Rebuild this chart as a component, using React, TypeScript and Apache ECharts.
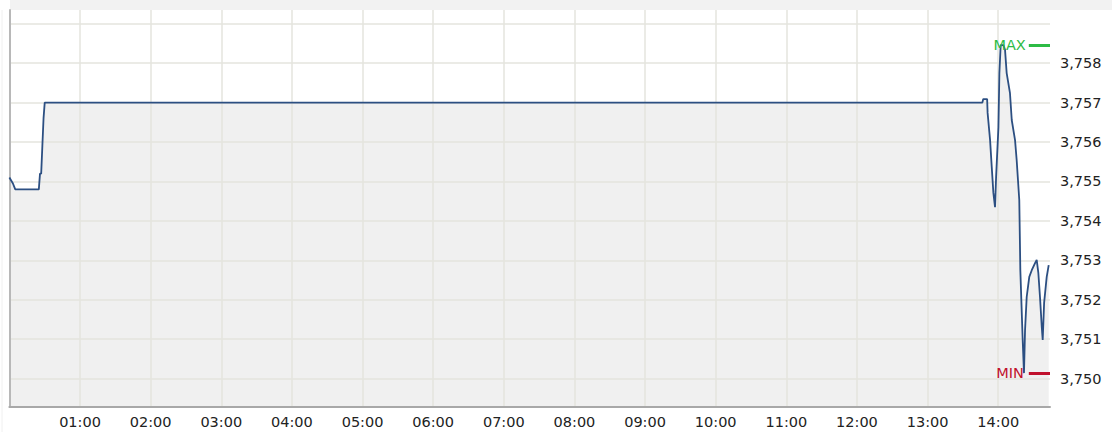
import React, { useEffect, useRef } from "react";
import * as echarts from "echarts";

// minutes since 00:00
const minutes = [
  0, 3, 5, 25, 26, 27, 28, 29, 30,
  826.5, 827.3, 830.6, 831, 833.1, 834.5, 835.9, 837.3, 838.2, 840.2, 841, 842.1,
  844.4, 845.8, 847.2, 850, 851.5, 854.3, 855.7, 857.9, 858.8, 860.8, 861.9, 862.8,
  864.2, 866.4, 868.5, 871.3, 872.7, 874.1, 875.5, 877, 877.8, 879, 881.2, 882.9,
];
const prices = [
  3.7551, 3.75495, 3.7548, 3.7548, 3.7552, 3.7552, 3.7559, 3.7566, 3.757,
  3.757, 3.75709, 3.75709, 3.75674, 3.75605, 3.75537, 3.75471, 3.75435, 3.75511, 3.75638, 3.75775, 3.75846,
  3.75846, 3.75834, 3.75775, 3.75724, 3.75656, 3.75605, 3.75554, 3.75453, 3.75275, 3.75098, 3.75014, 3.75123,
  3.75207, 3.75258, 3.75275, 3.75293, 3.75301, 3.75268, 3.75207, 3.75131, 3.75098, 3.75192, 3.75258, 3.75288,
];
const yMin = 3.74928;
const yMax = 3.75935;
const xMax = 884;
const markerStart = 866;

const FONT = "DejaVu Sans";

export default function App() {
  const ref = useRef<HTMLDivElement>(null);
  useEffect(() => {
    if (!ref.current) return;
    const chart = echarts.init(ref.current, null, { renderer: "svg" });
    const data = minutes.map((m, i) => [m, prices[i]]);
    const maxV = Math.max(...prices);
    const minV = Math.min(...prices);
    chart.setOption({
      animation: false,
      backgroundColor: "#ffffff",
      grid: { left: 9.4, right: 62, top: 10, bottom: 25 },
      graphic: [
        { type: "rect", shape: { x: 10, y: 0, width: 1102, height: 10 }, style: { fill: "#f2f2f2" }, silent: true },
        { type: "line", shape: { x1: 2, y1: 10, x2: 2, y2: 432 }, style: { stroke: "#f0f0f0", lineWidth: 1 }, silent: true },
      ],
      xAxis: {
        type: "value",
        min: 0,
        max: xMax,
        splitNumber: 15,
        minInterval: 60,
        maxInterval: 60,
        z: 2,
        axisLine: { show: true, lineStyle: { color: "#a8a8a8", width: 2 } },
        axisTick: { show: false },
        splitLine: { show: true, showMinLine: false, showMaxLine: false, lineStyle: { color: "#e4e4de", width: 1.5 } },
        axisLabel: {
          margin: 7,
          color: "#222",
          fontFamily: FONT,
          fontSize: 14.5,
          showMinLabel: false,
          showMaxLabel: false,
          formatter: (v: number) => {
            if (v <= 0 || v >= xMax || Math.abs(v % 60) > 0.001) return "";
            const h = Math.round(v / 60);
            return (h < 10 ? "0" : "") + h + ":00";
          },
        },
      },
      yAxis: {
        type: "value",
        position: "right",
        min: yMin,
        max: yMax,
        splitNumber: 10,
        minInterval: 0.001,
        maxInterval: 0.001,
        z: 2,
        axisLine: { show: true, lineStyle: { color: "#b8b8b8", width: 2 } },
        axisTick: { show: false },
        splitLine: { show: true, showMinLine: false, showMaxLine: false, lineStyle: { color: "#e4e4de", width: 1.5 } },
        axisLabel: {
          margin: 10,
          color: "#222",
          fontFamily: FONT,
          fontSize: 14.5,
          formatter: (v: number) => {
            const k = Math.round(v * 1000);
            if (Math.abs(v * 1000 - k) > 0.01 || k < 3750 || k > 3758) return "";
            return (k / 1000).toFixed(3).replace(".", ",");
          },
        },
      },
      series: [
        {
          type: "line",
          data,
          symbol: "none",
          silent: true,
          z: 1,
          lineStyle: { width: 0, opacity: 0 },
          areaStyle: { color: "#f0f0f0", opacity: 1 },
        },
        {
          type: "line",
          data,
          symbol: "none",
          silent: true,
          z: 3,
          lineStyle: { color: "#2c4f82", width: 1.8 },
          markLine: {
            silent: true,
            symbol: ["none", "none"],
            data: [
              [
                {
                  coord: [markerStart, maxV],
                  lineStyle: { color: "#2dbb45", width: 3, type: "solid" },
                  label: { show: true, position: "start", formatter: "MAX", color: "#2dbb45", fontFamily: FONT, fontSize: 14.5, distance: 3 },
                },
                { coord: [xMax, maxV] },
              ],
              [
                {
                  coord: [markerStart, minV],
                  lineStyle: { color: "#c0112c", width: 3, type: "solid" },
                  label: { show: true, position: "start", formatter: "MIN", color: "#c0112c", fontFamily: FONT, fontSize: 14.5, distance: 5 },
                },
                { coord: [xMax, minV] },
              ],
            ],
          },
        },
      ],
    });
    return () => chart.dispose();
  }, []);
  return <div ref={ref} style={{ position: "fixed", left: 0, top: 0, width: 1112, height: 432 }} />;
}
